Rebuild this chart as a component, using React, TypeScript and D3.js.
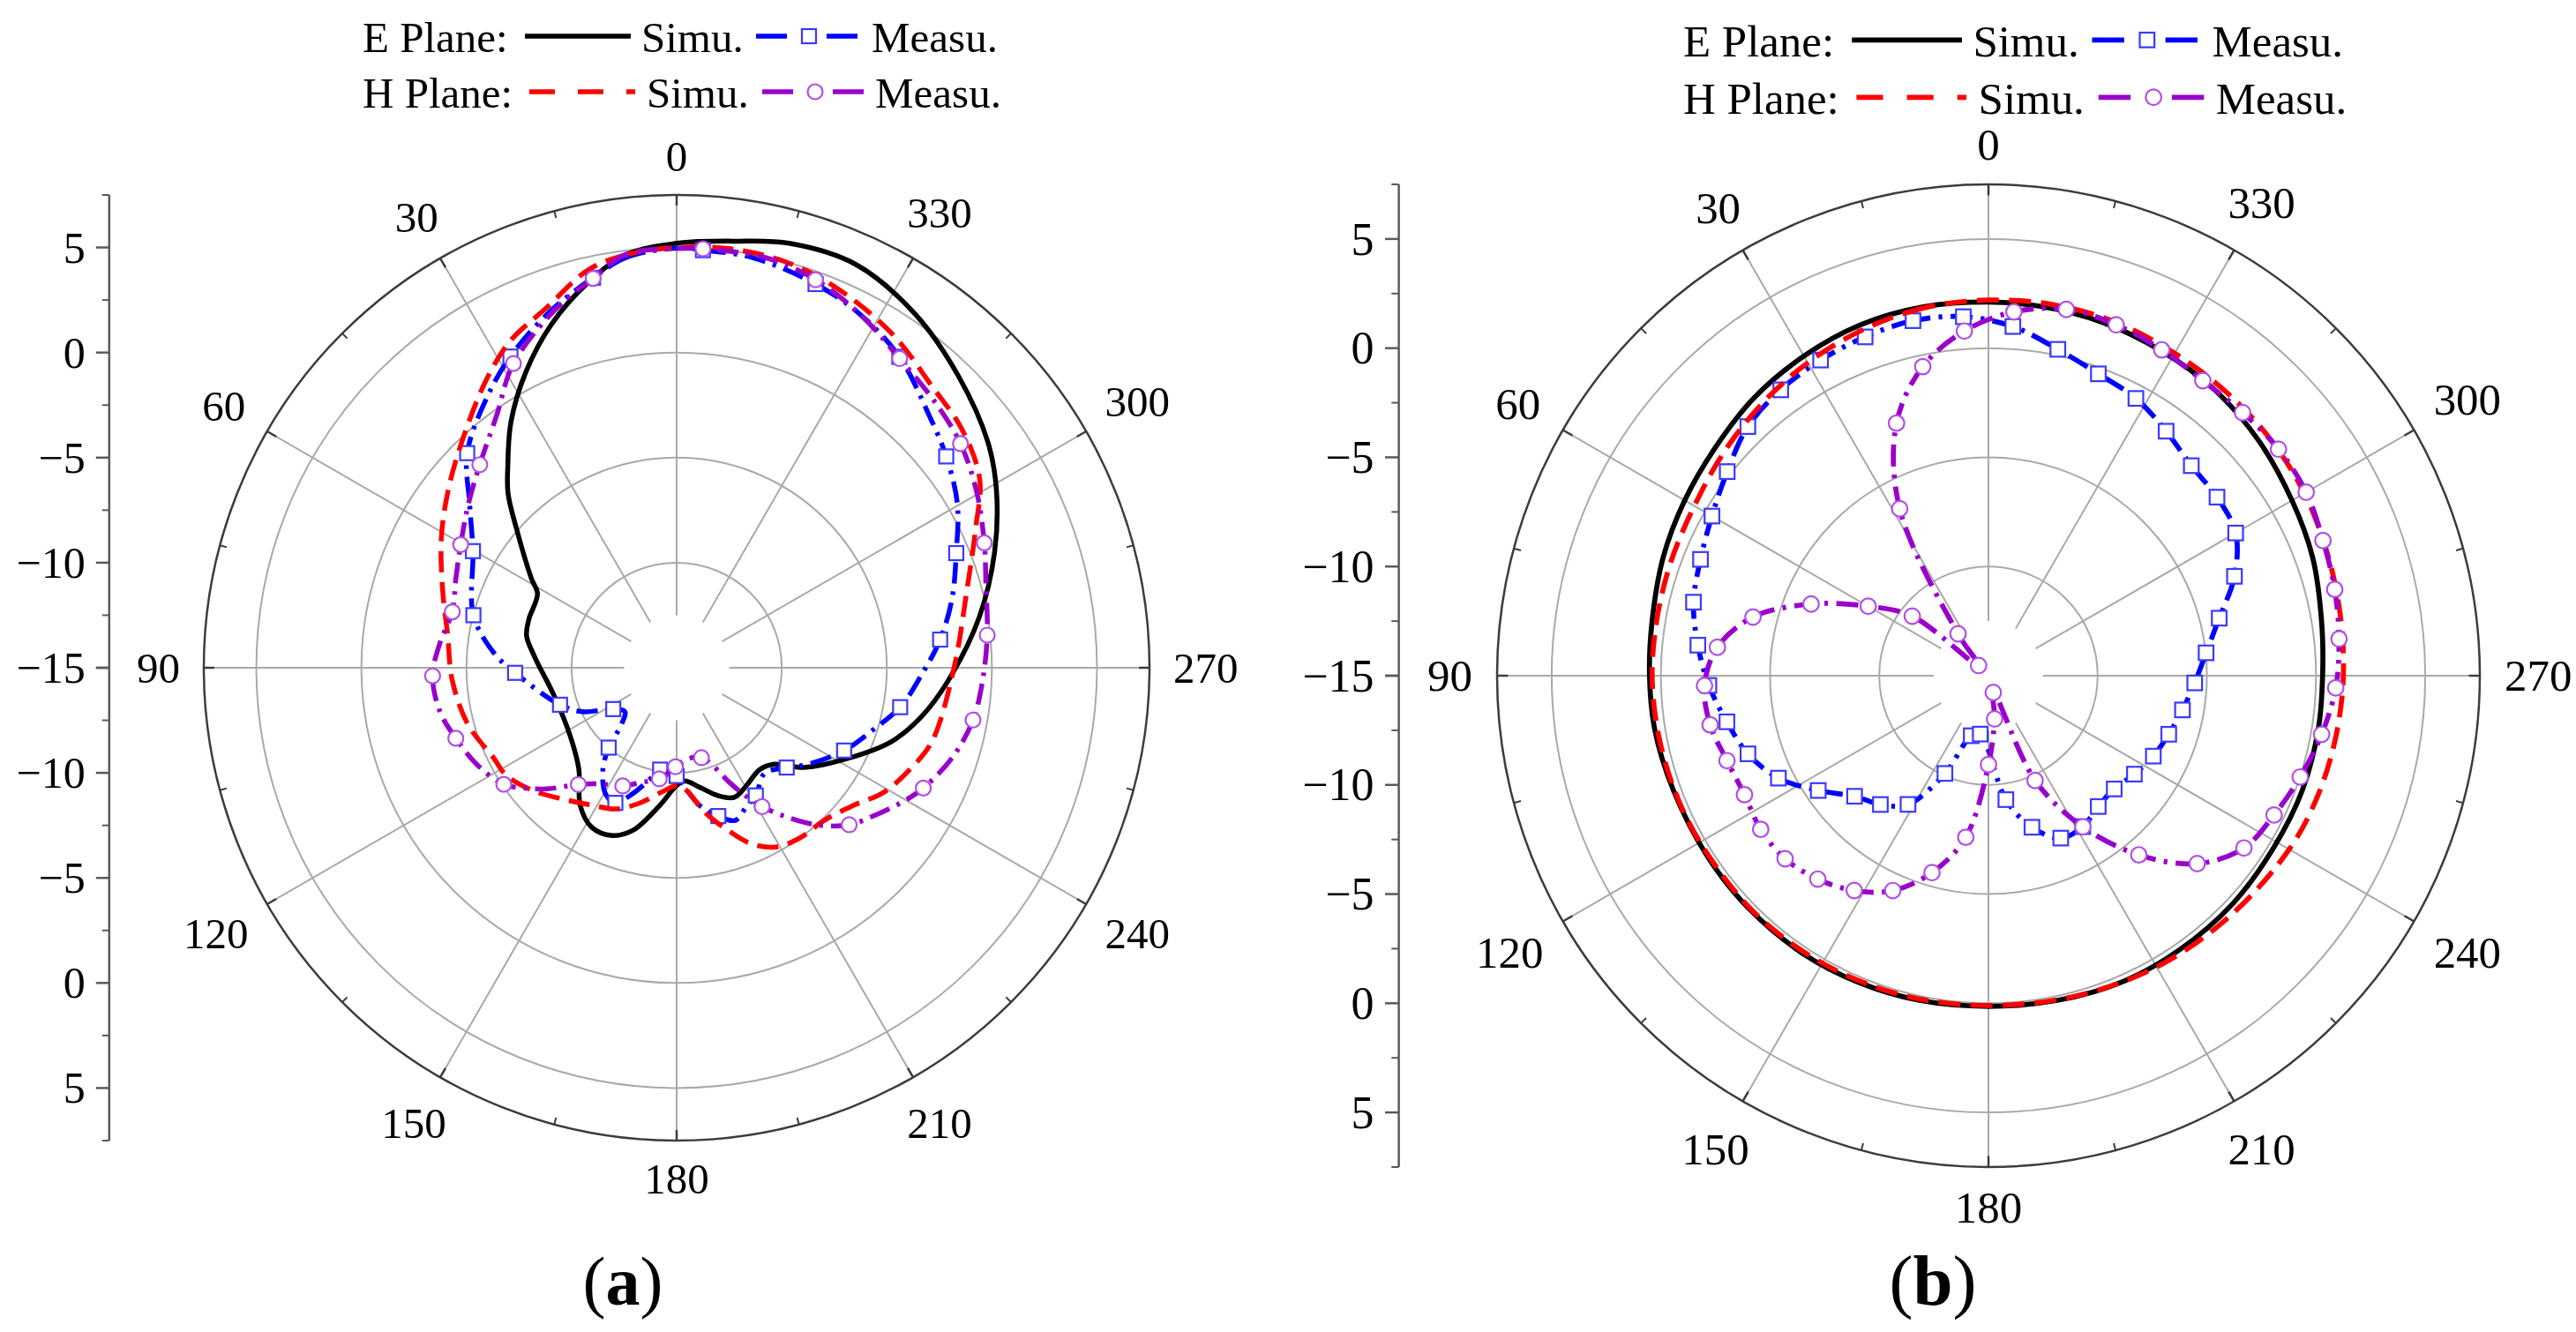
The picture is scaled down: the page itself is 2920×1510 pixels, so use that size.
import React from "react";
import * as d3 from "d3";

const WIDTH = 2920;
const HEIGHT = 1510;
const FONT = "'Liberation Serif', 'Times New Roman', 'DejaVu Serif', serif";

// radial axis in dB: centre is -15, outer frame is 7.5, spokes stop at -12.5
const radialDomain = [-15, 7.5];
const holeValue = -12.5;
const ringValues = [-10, -5, 0, 5];
const majorRadialTicks = [-15, -10, -5, 0, 5];
const minorRadialTicks = [-12.5, -7.5, -2.5, 2.5, 7.5];
const angleTicks = [0, 30, 60, 90, 120, 150, 180, 210, 240, 270, 300, 330];
const minorAngleTicks = [15, 45, 75, 105, 135, 165, 195, 225, 255, 285, 315, 345];

// ---- panel (a) : [angle in deg, gain in dB]
const eSimA = [
  [0, 5.2], [7, 4.8], [13, 3.8], [20, 2.4], [27, 0.8], [34, -0.9], [40, -2.5], [44, -3.45],
  [49, -4.9], [58.5, -6.9], [62, -7.5], [72, -7.6], [78, -7.7], [86, -8.25], [102, -9.0],
  [122, -9.0], [136, -8.3], [145, -7.0], [152, -6.4], [159, -6.45], [165, -7.0], [173, -8.4],
  [180, -9.4], [184, -9.6], [191, -9.2], [198, -8.6], [204, -8.25], [211, -8.5], [219, -8.75],
  [225, -8.5], [232, -7.3], [242, -5.8], [251, -4.2], [258.5, -3.15], [267, -2.1], [279.5, -0.4],
  [290, 1.1], [299, 2.4], [306, 3.3], [316, 4.3], [326, 5.3], [336, 6.0], [345, 5.9], [352, 5.5],
];
const eMeasA = [
  [0, 4.97], [7, 4.67], [12.1, 3.98], [19.5, 3.0], [28.1, 1.79], [34.9, 0.74], [44.3, -0.73],
  [51.6, -2.43], [60.2, -3.83], [75.5, -5.01], [85.3, -6.27], [91.8, -7.31], [107.6, -9.18],
  [114.9, -10.04], [123.1, -11.4], [130.3, -11.77], [136.2, -11.14], [139.6, -10.01],
  [144.3, -8.98], [150.7, -8.1], [155.6, -7.94], [160.6, -8.63], [166.5, -9.54], [170.8, -10.09],
  [180, -9.85], [184.1, -9.26], [189.6, -8.34], [195.7, -7.67], [201, -7.22], [207, -7.63],
  [211.8, -7.85], [219.8, -8.46], [227.8, -7.93], [233.1, -7.31], [243.7, -6.11], [252.6, -5.18],
  [260, -4.2], [268, -3.38], [276.1, -2.39], [284, -1.5], [292.3, -0.62], [300.3, 0.47],
  [308.1, 1.3], [315, 1.99], [324.4, 3.2], [332.6, 3.95], [340.1, 4.42], [349.5, 4.85], [356.4, 4.91],
];
const eMeasAMarks = [12.1, 28.1, 44.3, 60.2, 75.5, 91.8, 107.6, 123.1, 139.6, 155.6, 170.8, 180,
  195.7, 211.8, 227.8, 243.7, 260, 276.1, 292.3, 308.1, 324.4, 340.1, 356.4];
const hSimA = [
  [0, 5.0], [7, 4.8], [12.5, 4.4], [20, 3.2], [27, 2.45], [33, 1.5], [41, 0.2], [51, -1.1],
  [61, -2.2], [72, -3.3], [82, -4.0], [93, -4.3], [105, -4.7], [116.5, -5.3], [122, -5.4],
  [130.5, -6.0], [140, -6.8], [148, -7.3], [157, -7.7], [165, -8.35], [174, -9.1], [180.5, -9.4],
  [185, -9.1], [191, -8.0], [198, -6.8], [203, -5.9], [209, -5.25], [216, -5.0], [224, -4.9],
  [232, -4.35], [239, -3.5], [247, -2.85], [254, -2.35], [270, -1.8], [285, -0.7], [295, 0.7],
  [302, 2.0], [310, 2.7], [318, 3.1], [327, 3.9], [337, 4.6], [345, 5.0], [353, 5.1],
];
const hMeasA = [
  [0, 4.95], [7, 4.82], [12.1, 3.95], [18.4, 3.05], [28.2, 1.43], [35.5, -0.25], [44.1, -1.54],
  [51.8, -2.39], [60.3, -3.17], [68.2, -3.68], [76, -4.0], [83.9, -3.68], [91.9, -3.38],
  [100.6, -3.55], [107.7, -3.97], [116.2, -4.46], [124, -5.08], [128.1, -5.73], [133, -6.55],
  [139.9, -7.74], [146.5, -8.38], [155.5, -8.82], [162.7, -9.29], [171.1, -9.65], [179.3, -10.29],
  [187.2, -10.64], [195.4, -10.56], [199.9, -10.1], [204.7, -9.0], [208.6, -8.0], [211.6, -7.24],
  [216.7, -6.11], [221.9, -4.95], [227.7, -3.9], [233.7, -3.2], [240, -2.41], [244, -1.94],
  [252, -1.2], [260, -0.68], [267.6, -0.43], [276, -0.14], [284.9, 0.23], [292.1, 0.8],
  [300.5, 1.56], [308.3, 2.21], [315.7, 2.63], [324.2, 3.14], [332.6, 3.95], [340.3, 4.61],
  [347.8, 4.97], [356.4, 4.97],
];
const hMeasAMarks = [12.1, 28.2, 44.1, 60.3, 76, 91.9, 107.7, 124, 139.9, 155.5, 171.1, 179.3,
  195.4, 211.6, 227.7, 244, 260, 276, 292.1, 308.3, 324.2, 340.3, 356.4];

// ---- panel (b)
const eSimB = [
  [0, 2.11], [10, 2.15], [20, 2.1], [30, 1.9], [40, 1.65], [50, 1.3], [60, 1.06], [70, 0.85],
  [81, 0.6], [90, 0.52], [99, 0.48], [110, 0.35], [123, 0.3], [134, 0.3], [146, 0.3], [157, 0.25],
  [168, 0.2], [180, 0.14], [192, 0.2], [204, 0.3], [215, 0.3], [227, 0.3], [239, 0.25], [250, 0.3],
  [261, 0.3], [270, 0.3], [279, 0.45], [290, 0.8], [300, 1.05], [311, 1.4], [322, 1.7], [332, 1.85],
  [342, 2.0], [352, 2.08],
];
const eMeasB = [
  [4, 1.48], [12, 1.62], [20, 1.51], [28, 1.37], [36, 1.18], [44, 0.86], [52, 0.18], [60, -0.38],
  [68, -0.78], [76, -1.08], [84, -1.62], [92, -2.19], [100, -2.84], [108, -3.42], [116, -4.3],
  [124, -5.6], [132, -6.75], [140, -7.3], [148, -8.05], [156, -10.1], [164, -12.14], [172, -12.3],
  [188, -9.27], [196, -7.78], [204, -6.86], [212, -6.85], [220, -7.18], [228, -7.25], [236, -6.94],
  [244, -6.6], [252, -6.32], [260, -5.98], [268, -5.55], [276, -4.98], [284, -4.11], [292, -2.85],
  [300, -1.93], [308, -1.72], [316, -1.63], [324, -1.16], [332, -0.62], [340, -0.29], [348, 0.28],
  [356, 1.03],
];
const eMeasBMarks = eMeasB.map((d) => d[0]);
const hSimB = [
  [0, 2.2], [10, 2.1], [20, 1.85], [30, 1.55], [40, 1.2], [50, 0.85], [60, 0.55], [70, 0.45],
  [80, 0.4], [90, 0.4], [100, 0.35], [110, 0.3], [120, 0.25], [135, 0.25], [150, 0.2], [165, 0.15],
  [180, 0.1], [195, 0.2], [210, 0.4], [225, 0.6], [240, 0.9], [250, 1.05], [260, 1.15], [270, 1.25],
  [280, 1.35], [290, 1.5], [300, 1.7], [310, 1.85], [320, 1.95], [330, 2.05], [340, 2.2], [350, 2.25],
];
const hMeasB = [
  [4, 0.82], [12, -0.53], [20, -2.69], [28, -6.34], [36, -12.63], [44, -14.35], [52, -10.57],
  [60, -8.64], [68, -6.24], [76, -3.89], [84, -2.52], [92, -1.99], [100, -2.06], [108, -2.41],
  [116, -2.57], [124, -2.42], [132, -2.47], [140, -2.84], [148, -3.4], [156, -4.23], [164, -5.62],
  [172, -7.53], [180, -10.93], [188, -13.0], [196, -14.2], [204, -9.75], [212, -6.84], [220, -4.29],
  [228, -2.14], [236, -0.89], [244, -0.45], [252, 0.01], [260, 0.49], [268, 0.91], [276, 1.14],
  [284, 1.34], [292, 1.52], [300, 1.8], [308, 1.85], [316, 1.75], [324, 1.7], [332, 1.9],
  [340, 2.1], [348, 2.15], [356, 1.7],
];
const hMeasBMarks = hMeasB.map((d) => d[0]);

const COLORS = {
  eSim: "#000000",
  eMeas: "#0000ff",
  hSim: "#ff0000",
  hMeas: "#9900cc",
  square: "#3a3aff",
  circle: "#b04ee6",
  grid: "#a9a9a9",
  frame: "#3c3c3c",
  axis: "#5a5a5a",
};

const rad = (a: number) => (a * Math.PI) / 180;

function Marker({ kind, x, y, k }: { kind: string; x: number; y: number; k: number }) {
  if (kind === "square") {
    const s = 16 * k;
    return <rect x={x - s / 2} y={y - s / 2} width={s} height={s} fill="#fff" stroke={COLORS.square} strokeWidth={2.2} />;
  }
  return <circle cx={x} cy={y} r={8.5 * k} fill="#fff" stroke={COLORS.circle} strokeWidth={2.2} />;
}

function PolarPanel(props: any) {
  const { cx, cy, R, eSim, eMeas, eMeasMarks, hSim, hMeas, hMeasMarks, legend, tag, tagX } = props;
  const k = R / 536;
  const rs = d3.scaleLinear().domain(radialDomain).range([0, R]);
  const pos = (a: number, v: number) => [cx - rs(v) * Math.sin(rad(a)), cy - rs(v) * Math.cos(rad(a))];
  const radial = d3
    .lineRadial<number[]>()
    .angle((d) => -rad(d[0]))
    .radius((d) => rs(d[1]))
    .curve(d3.curveCatmullRomClosed.alpha(0.5));

  const tickFs = 50 * k;
  const angleFs = 49 * k;
  const legendFs = 49 * k;
  const axisX = cx - 1.2 * R;
  const lw = 5.5 * k;
  const measDash = `${24 * k},${9 * k},${4 * k},${9 * k}`;
  const simDash = `${24 * k},${11 * k}`;

  const series = [
    { data: eSim, color: COLORS.eSim, dash: undefined },
    { data: eMeas, color: COLORS.eMeas, dash: measDash, marks: eMeasMarks, kind: "square" },
    { data: hSim, color: COLORS.hSim, dash: simDash },
    { data: hMeas, color: COLORS.hMeas, dash: measDash, marks: hMeasMarks, kind: "circle" },
  ];

  const rows = [
    { label: "E Plane:", y: legend.y1, lineX: 184, simuX: 316, measX: 446, measuX: 577,
      sim: COLORS.eSim, simDash: undefined, meas: COLORS.eMeas, kind: "square" },
    { label: "H Plane:", y: legend.y2, lineX: 189, simuX: 322, measX: 453, measuX: 581,
      sim: COLORS.hSim, simDash: `${29 * k},${26 * k}`, meas: COLORS.hMeas, kind: "circle" },
  ];

  const textStyle = { fontFamily: FONT };

  return (
    <g style={textStyle}>
      {/* rings */}
      {ringValues.map((v) => (
        <circle key={`ring${v}`} cx={cx} cy={cy} r={rs(v)} fill="none" stroke={COLORS.grid} strokeWidth={2} />
      ))}
      {/* spokes */}
      {angleTicks.map((a) => {
        const [x1, y1] = pos(a, holeValue);
        const [x2, y2] = pos(a, radialDomain[1]);
        return <line key={`sp${a}`} x1={x1} y1={y1} x2={x2} y2={y2} stroke={COLORS.grid} strokeWidth={2} />;
      })}
      {/* frame */}
      <circle cx={cx} cy={cy} r={R} fill="none" stroke={COLORS.frame} strokeWidth={2.5} />
      {angleTicks.map((a) => {
        const [x1, y1] = pos(a, radialDomain[1]);
        const inner = rs.invert(R - 12 * k);
        const [x2, y2] = pos(a, inner);
        return <line key={`mt${a}`} x1={x1} y1={y1} x2={x2} y2={y2} stroke={COLORS.frame} strokeWidth={2.5} />;
      })}
      {minorAngleTicks.map((a) => {
        const [x1, y1] = pos(a, radialDomain[1]);
        const inner = rs.invert(R - 8 * k);
        const [x2, y2] = pos(a, inner);
        return <line key={`nt${a}`} x1={x1} y1={y1} x2={x2} y2={y2} stroke={COLORS.frame} strokeWidth={2} />;
      })}
      {/* angle labels */}
      {angleTicks.map((a) => {
        const txt = String(a);
        const w = txt.length * 0.5 * angleFs;
        const h = 0.68 * angleFs;
        const off = R + 27 * k + Math.abs(Math.sin(rad(a))) * (w / 2) + Math.abs(Math.cos(rad(a))) * (h / 2);
        const x = cx - off * Math.sin(rad(a));
        const y = cy - off * Math.cos(rad(a));
        return (
          <text key={`al${a}`} x={x} y={y + 0.34 * angleFs} fontSize={angleFs} textAnchor="middle" fill="#000" style={textStyle}>
            {txt}
          </text>
        );
      })}
      {/* radial axis on the left */}
      <line x1={axisX} y1={cy - R} x2={axisX} y2={cy + R} stroke={COLORS.axis} strokeWidth={2.5} />
      {[-1, 1].map((side) =>
        majorRadialTicks.map((v) => {
          const y = cy + side * rs(v);
          return (
            <g key={`rt${side}${v}`}>
              <line x1={axisX - 15 * k} y1={y} x2={axisX} y2={y} stroke={COLORS.axis} strokeWidth={2.5} />
              {!(side === 1 && v === radialDomain[0]) && (
                <text x={axisX - 27 * k} y={y + 0.34 * tickFs} fontSize={tickFs} textAnchor="end" fill="#000" style={textStyle}>
                  {v < 0 ? `\u2212${Math.abs(v)}` : String(v)}
                </text>
              )}
            </g>
          );
        })
      )}
      {[-1, 1].map((side) =>
        minorRadialTicks.map((v) => {
          const y = cy + side * rs(v);
          return <line key={`rm${side}${v}`} x1={axisX - 8 * k} y1={y} x2={axisX} y2={y} stroke={COLORS.axis} strokeWidth={2} />;
        })
      )}
      {/* curves */}
      {series.map((s, i) => (
        <g key={`s${i}`}>
          <path
            transform={`translate(${cx},${cy})`}
            d={radial(s.data) || ""}
            fill="none"
            stroke={s.color}
            strokeWidth={lw}
            strokeDasharray={s.dash}
          />
          {s.marks &&
            s.marks.map((a: number) => {
              const p = s.data.find((d: number[]) => d[0] === a);
              if (!p) return null;
              const [x, y] = pos(p[0], p[1]);
              return <Marker key={`m${i}-${a}`} kind={s.kind} x={x} y={y} k={k} />;
            })}
        </g>
      ))}
      {/* legend */}
      {rows.map((row) => {
        const ly = row.y - 18 * k;
        const L = 120 * k;
        const x0 = legend.x;
        return (
          <g key={row.label}>
            <text x={x0} y={row.y} fontSize={legendFs} fill="#000" style={textStyle}>{row.label}</text>
            <line x1={x0 + row.lineX * k} y1={ly} x2={x0 + row.lineX * k + L} y2={ly} stroke={row.sim}
              strokeWidth={lw} strokeDasharray={row.simDash} />
            <text x={x0 + row.simuX * k} y={row.y} fontSize={legendFs} fill="#000" style={textStyle}>Simu.</text>
            <line x1={x0 + row.measX * k} y1={ly} x2={x0 + row.measX * k + L} y2={ly} stroke={row.meas}
              strokeWidth={lw} strokeDasharray={`${35 * k},${20 * k},${5 * k},${20 * k}`} />
            <Marker kind={row.kind} x={x0 + row.measX * k + 60 * k} y={ly} k={k} />
            <text x={x0 + row.measuX * k} y={row.y} fontSize={legendFs} fill="#000" style={textStyle}>Measu.</text>
          </g>
        );
      })}
      {/* panel tag */}
      <text x={tagX} y={1479} fontSize={78 * k} textAnchor="middle" fill="#000" style={textStyle}>
        (<tspan fontWeight="bold">{tag}</tspan>)
      </text>
    </g>
  );
}

export default function App() {
  return (
    <svg
      width={WIDTH}
      height={HEIGHT}
      viewBox={`0 0 ${WIDTH} ${HEIGHT}`}
      style={{ position: "absolute", left: 0, top: 0, background: "#fff", fontFamily: FONT }}
    >
      <rect width={WIDTH} height={HEIGHT} fill="#fff" />
      <PolarPanel
        cx={767} cy={757} R={536}
        eSim={eSimA} eMeas={eMeasA} eMeasMarks={eMeasAMarks}
        hSim={hSimA} hMeas={hMeasA} hMeasMarks={hMeasAMarks}
        legend={{ x: 411, y1: 59, y2: 122 }}
        tag="a" tagX={706}
      />
      <PolarPanel
        cx={2254} cy={766} R={557}
        eSim={eSimB} eMeas={eMeasB} eMeasMarks={eMeasBMarks}
        hSim={hSimB} hMeas={hMeasB} hMeasMarks={hMeasBMarks}
        legend={{ x: 1908, y1: 64, y2: 129 }}
        tag="b" tagX={2191}
      />
    </svg>
  );
}
